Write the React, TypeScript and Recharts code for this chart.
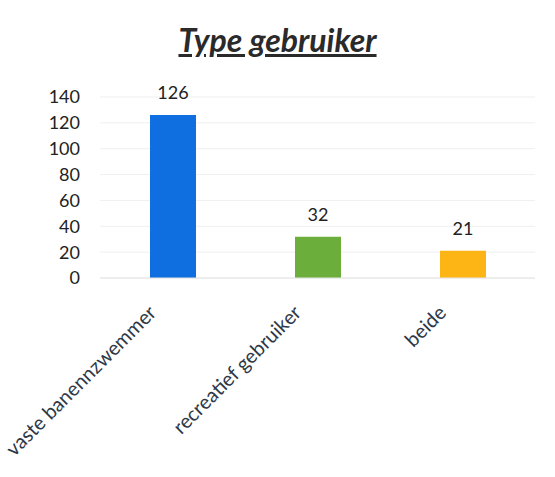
import React from 'react';
import { BarChart, Bar, XAxis, YAxis, CartesianGrid, Cell, LabelList } from 'recharts';

const categories = ['vaste banennzwemmer', 'recreatief gebruiker', 'beide'];
const counts = [126, 32, 21];
const barColors = ['#0f6fe0', '#6cae3c', '#fdb515'];
const yTicks = [0, 20, 40, 60, 80, 100, 120, 140];

const data = categories.map((name, i) => ({ name, value: counts[i] }));

const FONT = 'Lato, "Open Sans", sans-serif';

const RotatedTick = (props: any) => {
    const { x, y, payload } = props;
    const ax = x - 15;
    const ay = y + 28;
    return (
        <text
            x={ax}
            y={ay}
            transform={`rotate(-45, ${ax}, ${ay})`}
            textAnchor="end"
            fontSize={20}
            fontFamily={FONT}
            fill="#2e3846"
        >
            {payload.value}
        </text>
    );
};

const App: React.FC = () => {
    return (
        <div style={{ position: 'absolute', left: 0, top: 0, width: 555, height: 477, background: '#fff', fontFamily: FONT }}>
            {/* title */}
            <div
                style={{
                    position: 'absolute',
                    top: 20,
                    left: 0,
                    width: 555,
                    textAlign: 'center',
                    fontSize: 32,
                    lineHeight: '40px',
                    fontWeight: 700,
                    fontStyle: 'italic',
                    textDecoration: 'underline',
                    color: '#2a2a2a',
                }}
            >
                Type gebruiker
            </div>
            <BarChart
                width={555}
                height={477}
                data={data}
                margin={{ top: 97, right: 20, bottom: 0, left: 0 }}
            >
                <CartesianGrid stroke="#efefef" vertical={false} />
                <XAxis
                    dataKey="name"
                    axisLine={{ stroke: '#e4e4e4' }}
                    tickLine={false}
                    interval={0}
                    tick={<RotatedTick />}
                    height={199}
                />
                <YAxis
                    domain={[0, 140]}
                    ticks={yTicks}
                    interval={0}
                    axisLine={false}
                    tickLine={false}
                    tickSize={0}
                    tickMargin={20}
                    width={100}
                    tick={{ fontSize: 18, fill: '#222', fontFamily: FONT }}
                />
                <Bar dataKey="value" barSize={46} isAnimationActive={false}>
                    {data.map((d, i) => (
                        <Cell key={d.name} fill={barColors[i]} />
                    ))}
                    <LabelList dataKey="value" position="top" offset={16} fontSize={18} fill="#222" fontFamily={FONT} />
                </Bar>
            </BarChart>
        </div>
    );
};

export default App;
